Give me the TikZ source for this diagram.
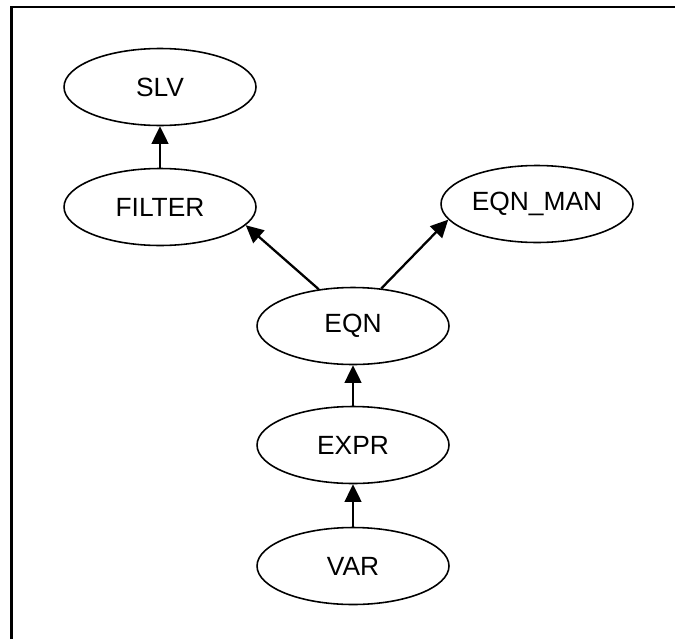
\documentclass[tikz,border=0pt]{standalone}
\usepackage{fontspec}
\setmainfont{Liberation Sans}
\usetikzlibrary{shapes.geometric,arrows.meta}

\begin{document}
\begin{tikzpicture}[x=0.02cm,y=-0.02cm]
        \tikzstyle{every node}+=[inner sep=0pt]
        \tikzstyle{state}=[draw=black, ellipse, line width=0.9pt, minimum width=3.84cm, minimum height=1.54cm, font=\fontsize{15}{17}\selectfont]
        \tikzstyle{link}=[black, line width=1.3pt, -{Triangle[length=10pt,width=9.5pt]}]
        \useasboundingbox (0,0) rectangle (675,639);
        % frame, only its top and left sides fall inside the page
        \coordinate (framebl) at (11.5,639);
        \coordinate (frametl) at (11.5,7);
        \coordinate (frametr) at (675,7);
        \draw [black, line width=1.6pt] (framebl) -- (frametl) -- (frametr);
        % nodes
        \node [state] (slv) at (160,87) {SLV};
        \node [state] (filter) at (160,207) {FILTER};
        \node [state] (eqnman) at (537,204) {EQN\_MAN};
        \node [state] (eqn) at (353,326) {EQN};
        \node [state] (expr) at (353,445) {EXPR};
        \node [state] (var) at (353,566) {VAR};
        % edges
        \draw [link] (filter) -- (slv);
        \draw [link] (eqn.133) -- (filter.-12);
        \draw [link] (eqn.53) -- (eqnman.190);
        \draw [link] (expr) -- (eqn);
        \draw [link] (var) -- (expr);
\end{tikzpicture}
\end{document}
